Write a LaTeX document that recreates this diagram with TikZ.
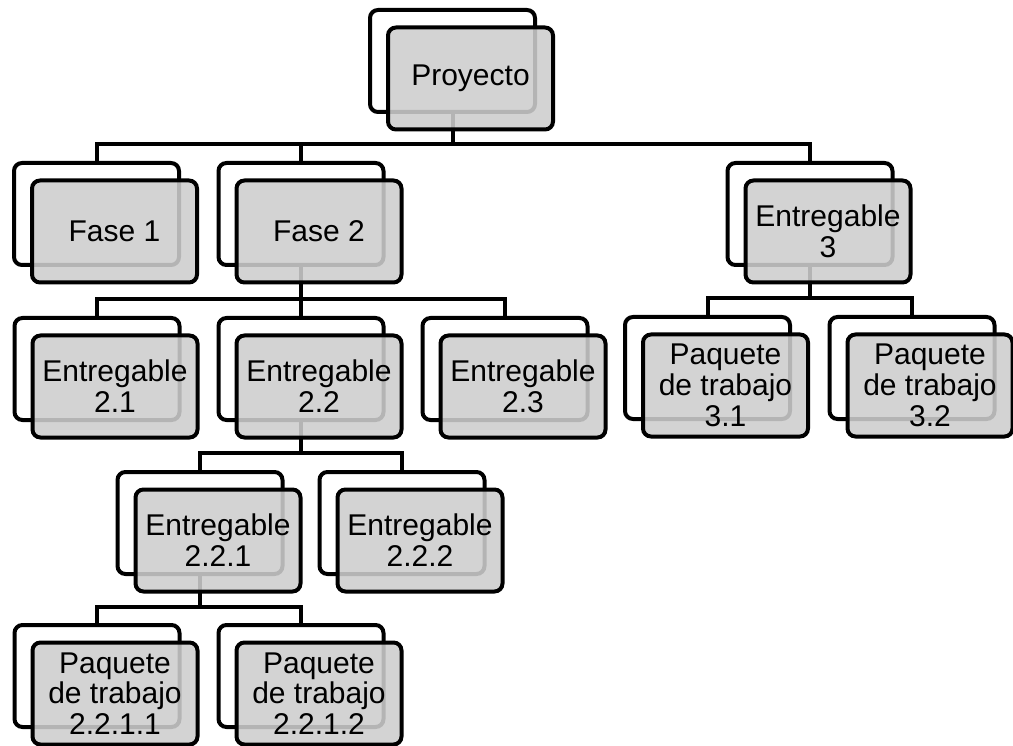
\documentclass[tikz,border=0pt]{standalone}
\usepackage{fontspec}
\setmainfont{Liberation Sans}
\pgfdeclarelayer{bg}
\pgfdeclarelayer{mid}
\pgfsetlayers{bg,mid,main}
\definecolor{boxgray}{RGB}{205,205,205}
\tikzset{
  backbox/.style={draw=black, line width=4pt, fill=white, rounded corners=8pt,
    minimum width=165pt, minimum height=102pt, inner sep=0pt},
  frontbox/.style={draw=black, line width=4pt, fill=boxgray, fill opacity=0.88, text opacity=1,
    rounded corners=8pt, minimum width=165pt, minimum height=102pt, inner sep=0pt,
    align=center, font=\fontsize{30}{30.8}\selectfont},
  conn/.style={draw=black, line width=4pt}
}
\newcommand{\wbsbox}[4]{%
  \begin{pgfonlayer}{mid}\node[backbox] (#1b) at (#2,#3+53) {};\end{pgfonlayer}
  \node[frontbox] (#1f) at (#2+18,#3+70.5) {#4};}
\begin{document}
\begin{tikzpicture}[x=1pt,y=-1pt]
\useasboundingbox (0,0) rectangle (1013,746);
\wbsbox{proj}{452.5}{8}{Proyecto}
\wbsbox{fasea}{96.5}{161}{Fase 1}
\wbsbox{faseb}{301}{161}{Fase 2}
\wbsbox{entc}{810}{161}{Entregable\\3}
\wbsbox{eba}{97}{316}{Entregable\\2.1}
\wbsbox{ebb}{301}{316}{Entregable\\2.2}
\wbsbox{ebc}{505}{316}{Entregable\\2.3}
\wbsbox{pca}{707.5}{315}{Paquete\\de trabajo\\3.1}
\wbsbox{pcb}{912}{315}{Paquete\\de trabajo\\3.2}
\wbsbox{ebba}{200}{470}{Entregable\\2.2.1}
\wbsbox{ebbb}{402}{470}{Entregable\\2.2.2}
\wbsbox{pbbaa}{97}{623}{Paquete\\de trabajo\\2.2.1.1}
\wbsbox{pbbab}{301}{623}{Paquete\\de trabajo\\2.2.1.2}
\begin{pgfonlayer}{bg}
\coordinate (busa) at ([yshift=17pt]faseab.north);
\foreach \c in {fasea,faseb,entc}
  \draw[conn] (projb.south) -- (projb.south |- busa) -| (\c b.north);
\coordinate (busb) at ([yshift=17pt]ebab.north);
\foreach \c in {eba,ebb,ebc}
  \draw[conn] (fasebb.south) -- (fasebb.south |- busb) -| (\c b.north);
\coordinate (busc) at ([yshift=17pt]pcab.north);
\foreach \c in {pca,pcb}
  \draw[conn] (entcb.south) -- (entcb.south |- busc) -| (\c b.north);
\coordinate (busd) at ([yshift=17pt]ebbab.north);
\foreach \c in {ebba,ebbb}
  \draw[conn] (ebbb.south) -- (ebbb.south |- busd) -| (\c b.north);
\coordinate (buse) at ([yshift=16.5pt]pbbaab.north);
\foreach \c in {pbbaa,pbbab}
  \draw[conn] (ebbab.south) -- (ebbab.south |- buse) -| (\c b.north);
\end{pgfonlayer}
\end{tikzpicture}
\end{document}
